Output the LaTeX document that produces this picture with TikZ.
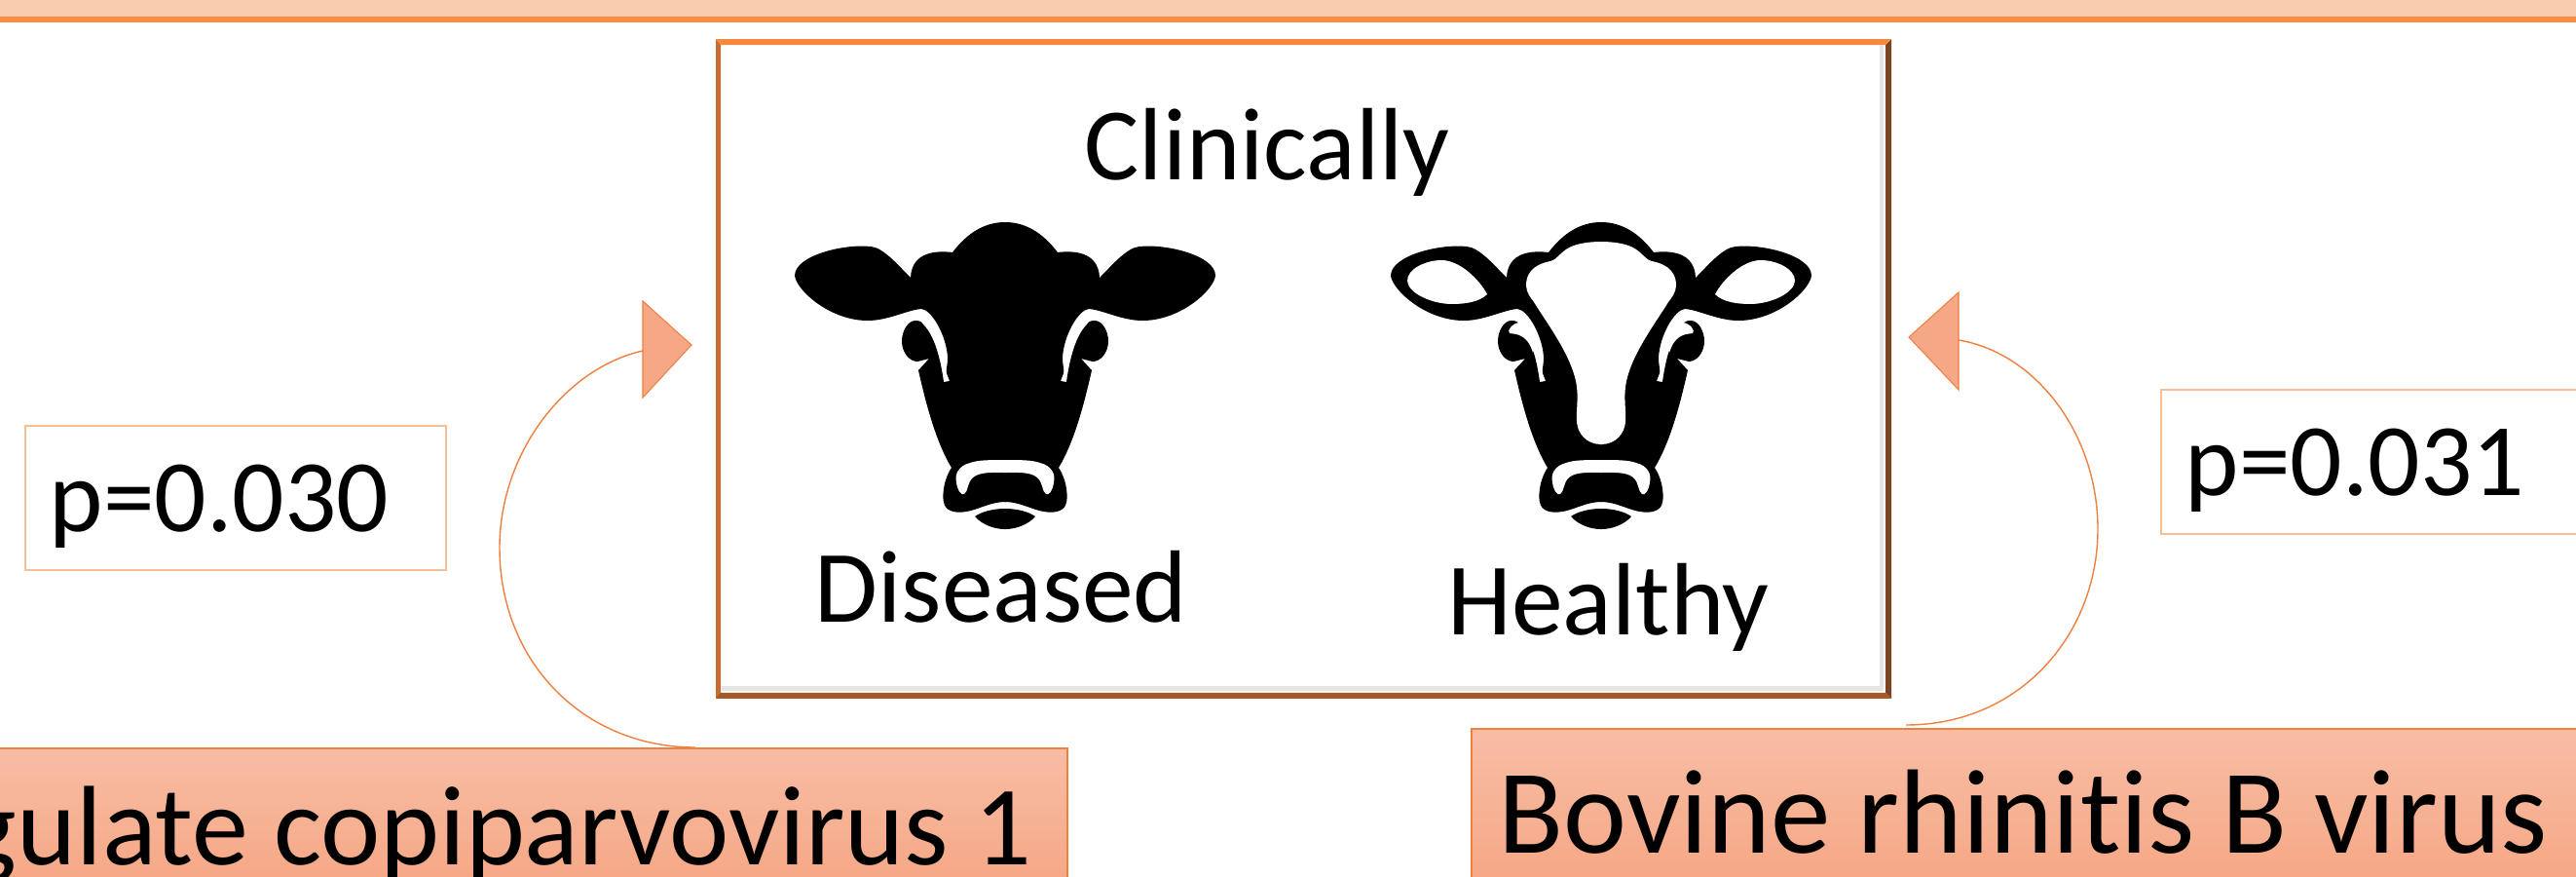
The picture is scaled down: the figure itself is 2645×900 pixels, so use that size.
\documentclass[tikz,border=0pt]{standalone}
\usepackage{fontspec}
\setmainfont[Ligatures=NoCommon]{Carlito}
\definecolor{bandfill}{RGB}{248,203,173}
\definecolor{bandline}{RGB}{250,140,66}
\definecolor{frametop}{RGB}{248,136,62}
\definecolor{frameleft}{RGB}{196,108,50}
\definecolor{frameright}{RGB}{122,70,34}
\definecolor{framebottom}{RGB}{164,90,42}
\definecolor{salmonline}{RGB}{240,128,64}
\definecolor{salmontop}{RGB}{247,189,165}
\definecolor{salmonbottom}{RGB}{246,168,134}
\definecolor{pboxline}{RGB}{248,190,150}
\usetikzlibrary{positioning,calc}
\tikzset{
  pics/cowhead/.style={code={
    \foreach \sx in {1,-1} {
      \begin{scope}[xscale=\sx]
        % silhouette, top of the head down to the muzzle
        \fill[black] (1,228) -- (0,228) .. controls (-20,228) and (-38,238) .. (-54,259)
          .. controls (-70,257) and (-96,258) .. (-97,285)
          .. controls (-110,272) and (-125,254) .. (-138,253)
          .. controls (-165,250) and (-216,262) .. (-216,283)
          .. controls (-214,298) and (-180,329) .. (-141,329)
          .. controls (-120,329) and (-100,318) .. (-86,317)
          .. controls (-75,318) and (-60,345) .. (-59,367)
          .. controls (-59,375) and (-61,380) .. (-60,383) -- (-57,391) -- (-63,392)
          .. controls (-66,370) and (-72,345) .. (-84,333)
          .. controls (-86,329) and (-90,329) .. (-92,329)
          .. controls (-100,329) and (-106,340) .. (-106,350)
          .. controls (-106,362) and (-98,371) .. (-90,371)
          -- (-78,368) -- (-89,380)
          .. controls (-80,420) and (-70,455) .. (-55,480)
          .. controls (-65,495) and (-64,513) .. (-63,515)
          .. controls (-62,525) and (-50,527) .. (-40,525)
          .. controls (-30,524) and (-15,515) .. (0,515) -- (1,515) -- cycle;
        % chin
        \fill[black] (1,522) -- (0,522) .. controls (-12,522) and (-24,525) .. (-31,530)
          .. controls (-24,538) and (-12,543) .. (0,543) -- (1,543) -- cycle;
        % muzzle strip
        \fill[white] (1,472) -- (0,472) .. controls (-15,472) and (-28,472) .. (-36,475)
          .. controls (-48,478) and (-52,487) .. (-50,495)
          .. controls (-49,503) and (-45,509) .. (-42,507)
          .. controls (-38,505) and (-39,495) .. (-33,490)
          .. controls (-26,484) and (-12,485) .. (0,485) -- (1,485) -- cycle;
      \end{scope}
    }
  }},
  pics/cowmarks/.style={code={
    \foreach \sx in {1,-1} {
      \begin{scope}[xscale=\sx]
        % inside of the ear
        \fill[white] (-199,288) .. controls (-199,276) and (-180,267) .. (-164,267)
          .. controls (-145,267) and (-125,287) .. (-117,302)
          .. controls (-125,310) and (-140,312) .. (-153,312)
          .. controls (-175,312) and (-199,300) .. (-199,288) -- cycle;
        % blaze
        \fill[white] (1,248) -- (0,248) .. controls (-12,248) and (-28,250) .. (-36,256)
          .. controls (-42,260) and (-48,268) .. (-52,268)
          .. controls (-62,270) and (-77,275) .. (-77,293)
          .. controls (-77,300) and (-72,306) .. (-69,310)
          .. controls (-58,328) and (-34,360) .. (-27,387)
          .. controls (-22,405) and (-26,420) .. (-25,433)
          .. controls (-24,445) and (-15,456) .. (0,456) -- (1,456) -- cycle;
        % curl
        \fill[white] (-84,331) .. controls (-92,332) and (-97,340) .. (-94,342)
          .. controls (-88,343) and (-76,342) .. (-70,362) -- (-66,350) -- cycle;
      \end{scope}
    }
  }}
}
\begin{document}
\begin{tikzpicture}[x=0.01cm,y=-0.01cm,
  word/.style={font=\fontsize{30}{36}\selectfont,inner sep=0pt,anchor=base west},
  pbox/.style={draw=pboxline,line width=0.45pt,fill=white,anchor=west,inner xsep=0.25cm,inner ysep=0pt,
    text width=3.82cm,minimum height=1.48cm,align=flush left,text height=0.8cm,text depth=0.12cm,
    font=\fontsize{30}{36}\selectfont},
  virusbox/.style={draw=salmonline,line width=0.45pt,top color=salmontop,bottom color=salmonbottom,
    inner ysep=0pt},
  arcline/.style={draw=salmonline,line width=0.4pt},
  tipfill/.style={draw=salmonline,line width=0.3pt,fill=salmonbottom}]
  \path[use as bounding box,clip] (0,0) rectangle (2645,900);
  \fill[white] (0,0) rectangle (2645,900);
  % top band
  \fill[bandfill] (-5,-5) rectangle (2650,17);
  \fill[bandline] (-5,17) rectangle (2650,23);
  % frame
  \node[fill=white,minimum width=12.05cm,minimum height=6.75cm,inner sep=0pt,anchor=north west] (frame) at (735,40) {};
  \fill[gray!20] (1930,46) rectangle (1934,709);
  \fill[gray!20] (741,704) rectangle (1934,709);
  \fill[frameleft] (frame.north west) -- (frame.south west) -- ++(5,-5) -- ($(frame.north west)+(5,6)$) -- cycle;
  \fill[frameright] (frame.north east) -- (frame.south east) -- ++(-6,-6) -- ($(frame.north east)+(-6,6)$) -- cycle;
  \fill[framebottom] (frame.south west) -- (frame.south east) -- ++(-6,-6) -- ($(frame.south west)+(5,-6)$) -- cycle;
  \fill[frametop] (frame.north west) -- (frame.north east) -- ++(-6,6) -- ($(frame.north west)+(5,6)$) -- cycle;
  % frame contents
  \node[word] (clinically) at (1113,184) {Clinically};
  \node[word] (diseased) at (836,638) {Diseased};
  \node[word] (healthy) at (1486,651) {Healthy};
  \pic at (1032,0) {cowhead};
  \pic at (1644,0) {cowhead};
  \pic at (1644,0) {cowmarks};
  % p values
  \node[pbox] (pleft) at (25,511) {p=0.030};
  \node[pbox] (pright) at (2218,474) {p=0.031};
  % virus names
  \node[virusbox,font=\fontsize{33}{40}\selectfont,anchor=north east,inner xsep=0.37cm,text height=1.2cm,text depth=0.13cm] (ungulate) at (1097,767) {Ungulate copiparvovirus 1};
  \node[virusbox,font=\fontsize{35}{42}\selectfont,anchor=north west,inner xsep=0.28cm,text height=1.28cm,text depth=0.25cm,text width=10.85cm,align=flush left] (bovine) at (1510,747) {Bovine rhinitis B virus};
  % curved arrows
  \coordinate (lstart) at (714,767);
  \coordinate (ltail) at (660,360);
  \coordinate (rstart) at (1957,744);
  \coordinate (rtail) at (2011,349);
  \draw[arcline] (lstart) .. controls (600,767) and (513,680) .. (513,562) .. controls (513,465) and (580,378) .. (ltail);
  \draw[arcline] (rstart) .. controls (2075,744) and (2154,650) .. (2154,543) .. controls (2154,445) and (2090,362) .. (rtail);
  \draw[tipfill] (660,309) -- (710,354) -- (660,408) -- cycle;
  \draw[tipfill] (2011,300) -- (1960,346) -- (2011,400) -- cycle;
\end{tikzpicture}
\end{document}
